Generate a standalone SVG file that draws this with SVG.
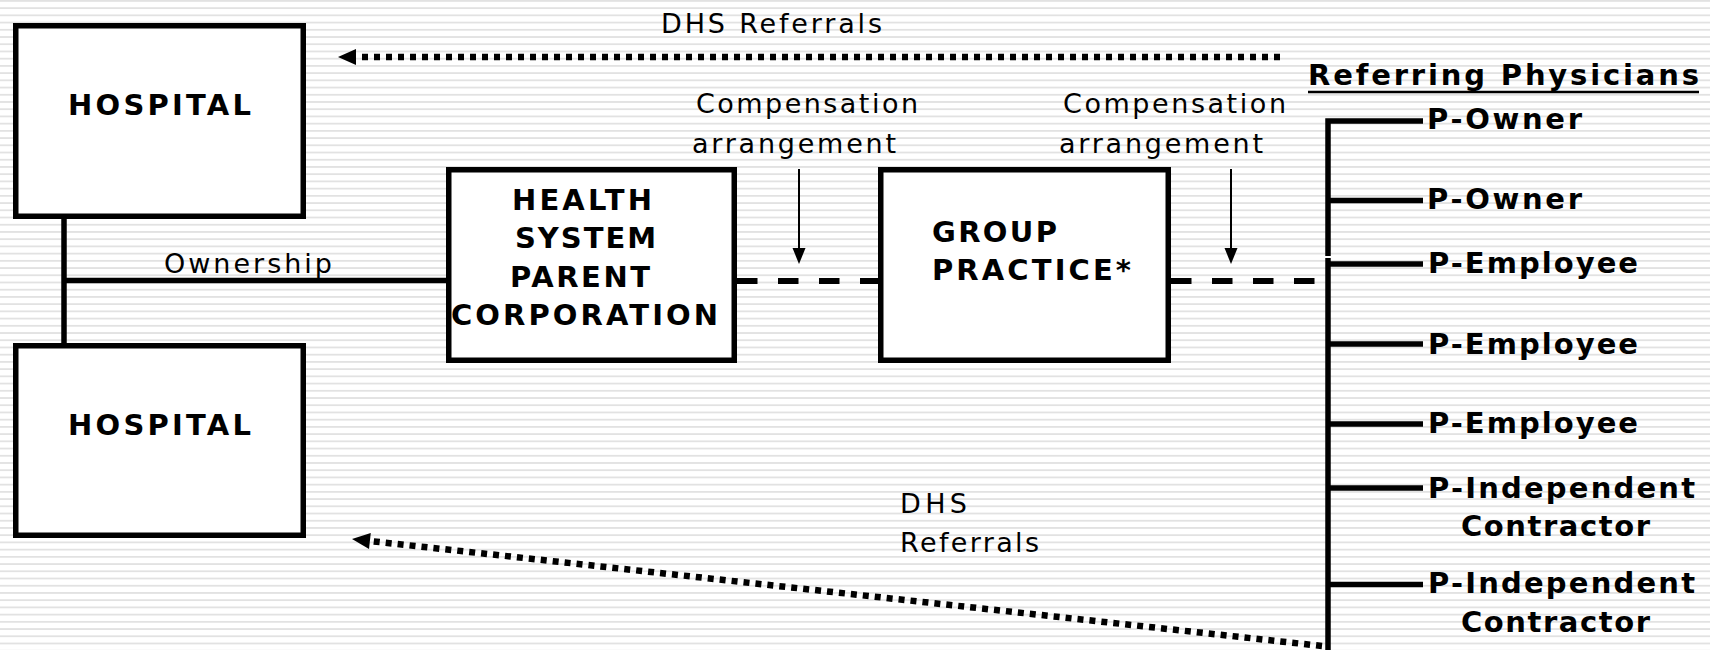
<svg xmlns="http://www.w3.org/2000/svg" width="1710" height="650" viewBox="0 0 1710 650">
  <defs>
    <!-- ruled-paper background -->
    <pattern id="stripes" x="0" y="0" width="20" height="7.22" patternUnits="userSpaceOnUse">
      <rect width="20" height="7.22" fill="#ffffff"/>
      <rect y="0" width="20" height="1.8" fill="#e2e2e2"/>
    </pattern>
    <!-- filled head for the dotted referral arrows (base sits at the line end) -->
    <marker id="dot-head" markerUnits="userSpaceOnUse" markerWidth="18" markerHeight="16" refX="0" refY="8" orient="auto" overflow="visible">
      <path d="M0,0 L18,8 L0,16 Z" fill="#000"/>
    </marker>
    <!-- small head for the thin compensation pointers -->
    <marker id="thin-head" markerUnits="userSpaceOnUse" markerWidth="16" markerHeight="13" refX="0" refY="6.5" orient="auto" overflow="visible">
      <path d="M0,0 L16,6.5 L0,13 Z" fill="#000"/>
    </marker>
  </defs>
  <style>
    .box { fill: #ffffff; stroke: #000000; stroke-width: 5.5; }
    .bold { font-family: "DejaVu Sans", Verdana, sans-serif; font-weight: bold; font-size: 29px; fill: #000000; }
    .reg { font-family: "DejaVu Sans", Verdana, sans-serif; font-size: 27px; fill: #000000; }
    .solid { stroke: #000000; stroke-width: 5.5; fill: none; stroke-linejoin: miter; }
    .dash { stroke: #000000; stroke-width: 6; stroke-dasharray: 20.5 20.5; fill: none; }
    .dots { stroke: #000000; stroke-width: 6.5; stroke-dasharray: 6 6; fill: none; }
    .thin { stroke: #000000; stroke-width: 2; fill: none; }
  </style>

  <rect x="0" y="0" width="1710" height="650" fill="url(#stripes)"/>

  <!-- connectors -->
  <g id="connectors">
    <!-- ownership link between both hospitals and the parent -->
    <path class="solid" d="M64,219 V343"/>
    <path class="solid" d="M64,280.5 H446"/>
    <text class="reg" x="164" y="273" textLength="168" lengthAdjust="spacing">Ownership</text>

    <!-- compensation arrangements -->
    <line class="dash" x1="737" y1="281" x2="878" y2="281"/>
    <line class="dash" x1="1171" y1="281" x2="1318" y2="281"/>
    <line class="thin" x1="799" y1="169" x2="799" y2="248" marker-end="url(#thin-head)"/>
    <line class="thin" x1="1231" y1="169" x2="1231" y2="248" marker-end="url(#thin-head)"/>
    <text class="reg" x="696" y="113" textLength="222" lengthAdjust="spacing">Compensation</text>
    <text class="reg" x="692" y="153" textLength="204" lengthAdjust="spacing">arrangement</text>
    <text class="reg" x="1063" y="113" textLength="223" lengthAdjust="spacing">Compensation</text>
    <text class="reg" x="1059" y="153" textLength="204" lengthAdjust="spacing">arrangement</text>

    <!-- physician trunk and branches -->
    <path class="solid" d="M1423,121 H1328 V256"/>
    <path class="solid" d="M1328,258 V650"/>
    <path class="solid" d="M1328,200.5 H1423"/>
    <path class="solid" d="M1328,264 H1423"/>
    <path class="solid" d="M1328,344 H1423"/>
    <path class="solid" d="M1328,424 H1423"/>
    <path class="solid" d="M1328,488 H1423"/>
    <path class="solid" d="M1328,584.5 H1423"/>

    <!-- DHS referrals -->
    <line class="dots" x1="1280" y1="57" x2="356" y2="57" marker-end="url(#dot-head)"/>
    <text class="reg" x="661" y="33" textLength="221" lengthAdjust="spacing">DHS Referrals</text>
    <line class="dots" x1="1322" y1="646" x2="369.9" y2="541" marker-end="url(#dot-head)"/>
    <text class="reg" x="900" y="513" textLength="67" lengthAdjust="spacing">DHS</text>
    <text class="reg" x="900" y="552" textLength="139" lengthAdjust="spacing">Referrals</text>
  </g>

  <!-- hospitals -->
  <g id="hospital-top">
    <rect class="box" x="15.75" y="25.75" width="287.5" height="190.5"/>
    <text class="bold" x="68" y="115" textLength="183" lengthAdjust="spacing">HOSPITAL</text>
  </g>
  <g id="hospital-bottom">
    <rect class="box" x="15.75" y="345.75" width="287.5" height="189.5"/>
    <text class="bold" x="68" y="435" textLength="183" lengthAdjust="spacing">HOSPITAL</text>
  </g>

  <!-- parent corporation -->
  <g id="health-system">
    <rect class="box" x="448.75" y="169.75" width="285.5" height="190.5"/>
    <text class="bold" x="512" y="210" textLength="140" lengthAdjust="spacing">HEALTH</text>
    <text class="bold" x="515" y="248" textLength="141" lengthAdjust="spacing">SYSTEM</text>
    <text class="bold" x="510" y="287" textLength="140" lengthAdjust="spacing">PARENT</text>
    <text class="bold" x="451" y="325" textLength="267" lengthAdjust="spacing">CORPORATION</text>
  </g>

  <!-- group practice -->
  <g id="group-practice">
    <rect class="box" x="880.75" y="169.75" width="287.5" height="190.5"/>
    <text class="bold" x="932" y="242" textLength="125" lengthAdjust="spacing">GROUP</text>
    <text class="bold" x="932" y="280" textLength="199" lengthAdjust="spacing">PRACTICE*</text>
  </g>

  <!-- referring physicians -->
  <g id="physicians-heading">
    <text class="bold" x="1308" y="85" textLength="391" lengthAdjust="spacing">Referring Physicians</text>
    <line x1="1308" y1="92" x2="1699" y2="92" stroke="#000" stroke-width="2.7"/>
  </g>
  <g id="physician-1">
    <text class="bold" x="1427" y="129" textLength="155" lengthAdjust="spacing">P-Owner</text>
  </g>
  <g id="physician-2">
    <text class="bold" x="1427" y="209" textLength="155" lengthAdjust="spacing">P-Owner</text>
  </g>
  <g id="physician-3">
    <text class="bold" x="1428" y="273" textLength="210" lengthAdjust="spacing">P-Employee</text>
  </g>
  <g id="physician-4">
    <text class="bold" x="1428" y="354" textLength="210" lengthAdjust="spacing">P-Employee</text>
  </g>
  <g id="physician-5">
    <text class="bold" x="1428" y="433" textLength="210" lengthAdjust="spacing">P-Employee</text>
  </g>
  <g id="physician-6">
    <text class="bold" x="1428" y="498" textLength="267" lengthAdjust="spacing">P-Independent</text>
    <text class="bold" x="1461" y="536" textLength="189" lengthAdjust="spacing">Contractor</text>
  </g>
  <g id="physician-7">
    <text class="bold" x="1428" y="593" textLength="267" lengthAdjust="spacing">P-Independent</text>
    <text class="bold" x="1461" y="632" textLength="189" lengthAdjust="spacing">Contractor</text>
  </g>
</svg>
